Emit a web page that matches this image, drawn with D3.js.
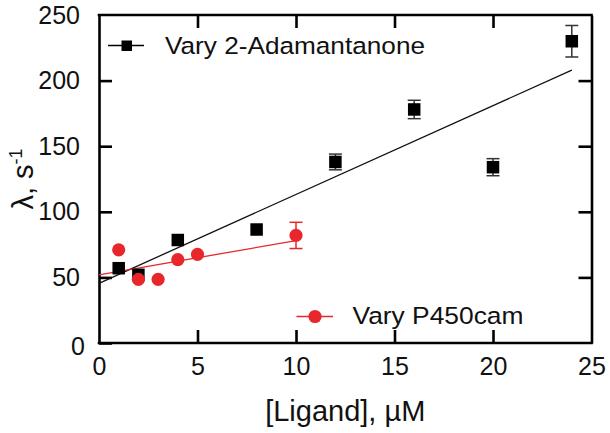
<!DOCTYPE html>
<html>
<head>
<meta charset="utf-8">
<script src="https://cdn.jsdelivr.net/npm/d3@7"></script>
<style>
  html, body { margin: 0; padding: 0; background: #fff; }
  svg { display: block; }
  text { font-family: "Liberation Sans", Arial, Helvetica, sans-serif; fill: #111; }
</style>
</head>
<body>
<svg id="chart" width="610" height="433"></svg>
<script>
// ---- Data ----
const adamX   = [1, 2, 4, 8, 12, 16, 20, 24];
const adamY   = [57, 52, 78.5, 86.5, 138, 178, 134, 230];
const adamErr = [0, 0, 0, 0, 6, 7, 6.5, 12];
const adamFit = [[0, 45.5], [24, 208]];

const camX   = [1, 2, 3, 4, 5, 10];
const camY   = [71, 48.5, 48.5, 63.5, 67.5, 82];
const camErr = [0, 0, 0, 0, 0, 10];
const camFit = [[0, 52], [10, 78]];

const xTicks = [0, 5, 10, 15, 20, 25];
const yTicks = [0, 50, 100, 150, 200, 250];
const seriesNames = ["Vary 2-Adamantanone", "Vary P450cam"];
const xTitle = "[Ligand], \u00B5M";

const RED = "#e8272c";

// ---- Layout ----
const svg = d3.select("#chart");
const L = 99, R = 591.5, T = 15, B = 343;
const x = d3.scaleLinear().domain([0, 25]).range([L, R]);
const y = d3.scaleLinear().domain([0, 250]).range([B, T]);

const tickLen = 13, axisW = 2.6;

// Bottom axis
const gB = svg.append("g").attr("transform", `translate(0,${B})`)
  .call(d3.axisBottom(x).tickValues(xTicks).tickSizeInner(-tickLen).tickSizeOuter(0).tickPadding(14));
// Left axis
const gL = svg.append("g").attr("transform", `translate(${L},0)`)
  .call(d3.axisLeft(y).tickValues(yTicks).tickSizeInner(-tickLen).tickSizeOuter(0).tickPadding(19));
// Top axis
const gT = svg.append("g").attr("transform", `translate(0,${T})`)
  .call(d3.axisTop(x).tickValues(xTicks.slice(1, -1)).tickSizeInner(-tickLen).tickSizeOuter(0).tickFormat(""));
// Right axis
const gR = svg.append("g").attr("transform", `translate(${R},0)`)
  .call(d3.axisRight(y).tickValues(yTicks.slice(1, -1)).tickSizeInner(-tickLen).tickSizeOuter(0).tickFormat(""));

[gB, gL, gT, gR].forEach(g => {
  g.select(".domain").attr("stroke", "#000").attr("stroke-width", axisW);
  g.selectAll(".tick line").attr("stroke", "#000").attr("stroke-width", axisW);
  g.selectAll(".tick text").attr("font-size", 25).attr("fill", "#111")
    .style("font-family", "'Liberation Sans', Arial, sans-serif");
});
// Extend domains to close the box corners
gB.select(".domain").attr("d", `M${L - axisW/2},0H${R + axisW/2}`);
gT.select(".domain").attr("d", `M${L - axisW/2},0H${R + axisW/2}`);
gL.select(".tick text").filter(d => d === 0).attr("dx", 5).attr("dy", "0.45em");
gB.selectAll(".tick line").filter(d => d === 0 || d === 25).remove();
gL.selectAll(".tick line").filter(d => d === 250).remove();

// Axis titles
svg.append("text")
  .attr("x", (L + R) / 2).attr("y", 421)
  .attr("text-anchor", "middle").attr("font-size", 29)
  .text(xTitle);

const yt = svg.append("text")
  .attr("transform", `translate(33,${(T + B) / 2}) rotate(-90)`)
  .attr("text-anchor", "middle").attr("font-size", 29);
yt.append("tspan").text("\u03BB, s");
yt.append("tspan").attr("font-size", 18).attr("dy", -11).text("-1");

// Fit lines
const line = d3.line().x(d => x(d[0])).y(d => y(d[1]));
svg.append("path").datum(adamFit).attr("d", line)
  .attr("fill", "none").attr("stroke", "#111").attr("stroke-width", 1.3);
svg.append("path").datum(camFit).attr("d", line)
  .attr("fill", "none").attr("stroke", RED).attr("stroke-width", 1.3);

// Error bars
function errorBars(xs, ys, es, color) {
  const g = svg.append("g").attr("stroke", color).attr("stroke-width", 1.5).attr("fill", "none");
  xs.forEach((xv, i) => {
    if (!es[i]) return;
    const cx = x(xv), y1 = y(ys[i] - es[i]), y2 = y(ys[i] + es[i]);
    g.append("line").attr("x1", cx).attr("x2", cx).attr("y1", y1).attr("y2", y2);
    g.append("line").attr("x1", cx - 6.5).attr("x2", cx + 6.5).attr("y1", y1).attr("y2", y1);
    g.append("line").attr("x1", cx - 6.5).attr("x2", cx + 6.5).attr("y1", y2).attr("y2", y2);
  });
}
errorBars(adamX, adamY, adamErr, "#333");
errorBars(camX, camY, camErr, RED);

// Markers
const sq = 12.5;
svg.append("g").selectAll("rect").data(adamX.map((d, i) => [d, adamY[i]])).join("rect")
  .attr("x", d => x(d[0]) - sq / 2).attr("y", d => y(d[1]) - sq / 2)
  .attr("width", sq).attr("height", sq).attr("fill", "#000");
svg.append("g").selectAll("circle").data(camX.map((d, i) => [d, camY[i]])).join("circle")
  .attr("cx", d => x(d[0])).attr("cy", d => y(d[1])).attr("r", 6.6).attr("fill", RED);

// Legends
const lg1 = svg.append("g");
lg1.append("line").attr("x1", 108).attr("x2", 144).attr("y1", 45.5).attr("y2", 45.5)
  .attr("stroke", "#000").attr("stroke-width", 1.6);
lg1.append("rect").attr("x", 121.5).attr("y", 40.5).attr("width", 10.5).attr("height", 10.5).attr("fill", "#000");
lg1.append("text").attr("x", 165).attr("y", 54).attr("font-size", 24.5)
  .attr("textLength", 260).attr("lengthAdjust", "spacingAndGlyphs").text(seriesNames[0]);

const lg2 = svg.append("g");
lg2.append("line").attr("x1", 296.5).attr("x2", 333).attr("y1", 316.5).attr("y2", 316.5)
  .attr("stroke", RED).attr("stroke-width", 1.6);
lg2.append("circle").attr("cx", 315).attr("cy", 316.5).attr("r", 6.6).attr("fill", RED);
lg2.append("text").attr("x", 352.5).attr("y", 324).attr("font-size", 24.5)
  .attr("textLength", 171).attr("lengthAdjust", "spacingAndGlyphs").text(seriesNames[1]);
</script>
</body>
</html>
